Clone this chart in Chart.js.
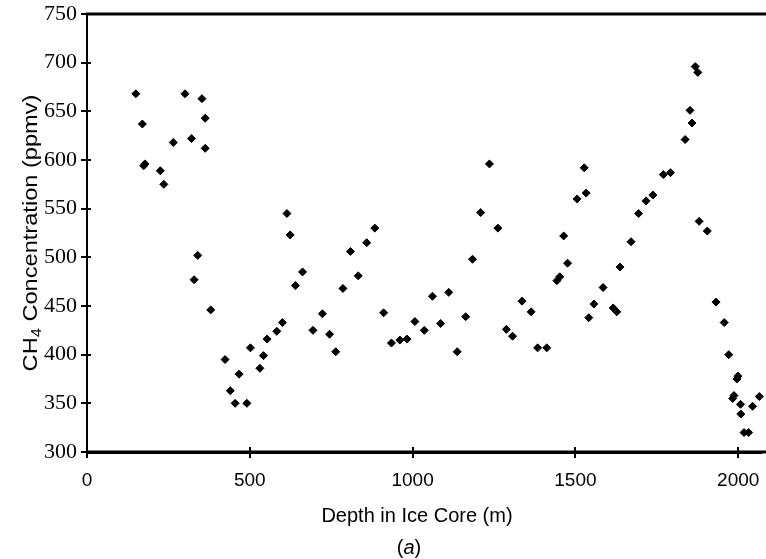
<!DOCTYPE html>
<html>
<head>
<meta charset="utf-8">
<script src="https://cdn.jsdelivr.net/npm/chart.js@4/dist/chart.umd.min.js"></script>
<style>
  html, body { margin: 0; padding: 0; background: #fff; }
  #wrap { width: 766px; height: 559px; }
</style>
</head>
<body>
<div id="wrap"><canvas id="iceChart" width="766" height="559"></canvas></div>
<script>
// depth (m) and CH4 (ppmv)
const depth = [
  150, 170, 174, 178, 225, 236, 265, 301, 321, 329, 340, 353, 363, 363, 380,
  424, 440, 455, 467, 491, 502, 531, 542, 553, 583, 600, 614, 624, 640, 662,
  694, 723, 745, 764, 786, 809, 833, 859, 884, 911, 935, 961, 983, 1007, 1036,
  1061, 1086, 1111, 1137, 1163, 1184, 1209, 1236, 1262, 1288, 1307, 1336, 1364, 1384, 1412,
  1443, 1452, 1464, 1476, 1505, 1527, 1533, 1541, 1557, 1585, 1616, 1627, 1637, 1671, 1694,
  1717, 1738, 1770, 1792, 1837, 1852, 1858, 1868, 1876, 1880, 1905, 1932, 1957, 1971, 1983,
  1987, 1996, 1999, 2007, 2008, 2018, 2032, 2044, 2065
];
const ch4 = [
  668, 637, 594, 596, 589, 575, 618, 668, 622, 477, 502, 663, 643, 612, 446,
  395, 363, 350, 380, 350, 407, 386, 399, 416, 424, 433, 545, 523, 471, 485,
  425, 442, 421, 403, 468, 506, 481, 515, 530, 443, 412, 415, 416, 434, 425,
  460, 432, 464, 403, 439, 498, 546, 596, 530, 426, 419, 455, 444, 407, 407,
  476, 480, 522, 494, 560, 592, 566, 438, 452, 469, 448, 444, 490, 516, 545,
  558, 564, 585, 587, 621, 651, 638, 696, 690, 537, 527, 454, 433, 400, 355,
  358, 375, 378, 349, 339, 320, 320, 347, 357
];
const xTicks = [0, 500, 1000, 1500, 2000];
const yTicks = [300, 350, 400, 450, 500, 550, 600, 650, 700, 750];

const points = depth.map((d, i) => ({ x: d, y: ch4[i] }));

// frame top line, crossing tick marks and the axis titles
const decor = {
  id: "decor",
  afterDraw(chart) {
    const ctx = chart.ctx;
    const a = chart.chartArea;
    const xs = chart.scales.x;
    const ys = chart.scales.y;
    ctx.save();
    ctx.strokeStyle = "#000";
    ctx.lineWidth = 3;
    ctx.beginPath();
    ctx.moveTo(a.left - 1, a.top);
    ctx.lineTo(766, a.top);
    ctx.moveTo(a.left - 1, a.bottom);
    ctx.lineTo(766, a.bottom);
    ctx.stroke();

    ctx.lineWidth = 2;
    xTicks.forEach(v => {
      const px = Math.round(xs.getPixelForValue(v));
      ctx.beginPath();
      ctx.moveTo(px, a.bottom - 5);
      ctx.lineTo(px, a.bottom + 6);
      ctx.stroke();
    });
    yTicks.forEach(v => {
      const py = Math.round(ys.getPixelForValue(v));
      ctx.beginPath();
      ctx.moveTo(a.left - 6, py);
      ctx.lineTo(a.left + 4, py);
      ctx.stroke();
    });

    ctx.fillStyle = "#000";
    ctx.textBaseline = "alphabetic";

    // x title
    ctx.font = "20px 'Liberation Sans', Arial, sans-serif";
    ctx.textAlign = "center";
    ctx.fillText("Depth in Ice Core (m)", 417, 522);

    // (a) with italic a
    const p1 = "(", p2 = "a", p3 = ")";
    ctx.textAlign = "left";
    const w1 = ctx.measureText(p1).width;
    const w3 = ctx.measureText(p3).width;
    ctx.font = "italic 20px 'Liberation Sans', Arial, sans-serif";
    const w2 = ctx.measureText(p2).width;
    let sx = 409 - (w1 + w2 + w3) / 2;
    ctx.font = "20px 'Liberation Sans', Arial, sans-serif";
    ctx.fillText(p1, sx, 554);
    ctx.font = "italic 20px 'Liberation Sans', Arial, sans-serif";
    ctx.fillText(p2, sx + w1, 554);
    ctx.font = "20px 'Liberation Sans', Arial, sans-serif";
    ctx.fillText(p3, sx + w1 + w2, 554);

    // y title with subscript 4, a bit stretched along its length
    ctx.translate(37, (a.top + a.bottom) / 2);
    ctx.rotate(-Math.PI / 2);
    ctx.scale(1.18, 1);
    const big = "20px 'Liberation Sans', Arial, sans-serif";
    const small = "14px 'Liberation Sans', Arial, sans-serif";
    ctx.font = big;
    const wa = ctx.measureText("CH").width;
    const wc = ctx.measureText(" Concentration (ppmv)").width;
    ctx.font = small;
    const wb = ctx.measureText("4").width;
    let tx = -(wa + wb + wc) / 2;
    ctx.font = big;
    ctx.fillText("CH", tx, 0);
    ctx.font = small;
    ctx.fillText("4", tx + wa, 4);
    ctx.font = big;
    ctx.fillText(" Concentration (ppmv)", tx + wa + wb, 0);
    ctx.restore();
  }
};

new Chart(document.getElementById("iceChart").getContext("2d"), {
  type: "scatter",
  data: {
    datasets: [
      {
        label: "CH4",
        data: points,
        pointStyle: "rectRot",
        pointRadius: 4,
        backgroundColor: "#000",
        borderColor: "#000",
        borderWidth: 1,
        clip: 6
      }
    ]
  },
  options: {
    responsive: false,
    animation: false,
    layout: { padding: { top: 14, right: 0, left: 0, bottom: 0 } },
    plugins: {
      legend: { display: false },
      title: { display: false },
      tooltip: { enabled: false }
    },
    scales: {
      x: {
        type: "linear",
        min: 0,
        max: 2070,
        afterBuildTicks: s => { s.ticks = xTicks.map(v => ({ value: v })); },
        afterFit: s => { s.height = 107; s.paddingLeft = 0; s.paddingRight = 0; },
        grid: { display: false, drawTicks: false },
        border: { display: true, color: "#000", width: 3 },
        ticks: {
          padding: 17,
          color: "#000",
          callback: v => String(v),
          font: { family: "'Liberation Sans', Arial, sans-serif", size: 19 }
        }
      },
      y: {
        type: "linear",
        min: 300,
        max: 750,
        afterBuildTicks: s => { s.ticks = yTicks.map(v => ({ value: v })); },
        afterFit: s => { s.width = 87; s.paddingTop = 0; s.paddingBottom = 0; },
        grid: { display: false, drawTicks: false },
        border: { display: true, color: "#000", width: 2 },
        ticks: {
          padding: 10,
          color: "#000",
          callback: v => String(v),
          font: { family: "'Liberation Serif', 'Times New Roman', serif", size: 22 }
        }
      }
    }
  },
  plugins: [decor]
});
</script>
</body>
</html>
